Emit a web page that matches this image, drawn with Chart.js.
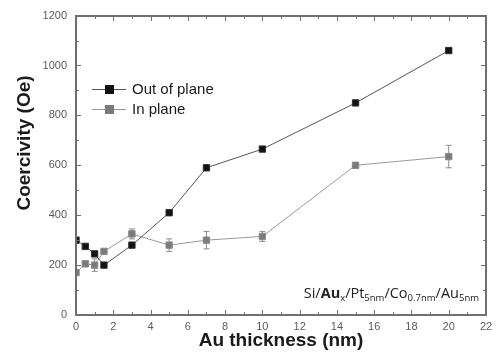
<!DOCTYPE html>
<html>
<head>
<meta charset="utf-8">
<script src="https://cdn.jsdelivr.net/npm/chart.js@4.4.0/dist/chart.umd.min.js"></script>
<style>
  html, body { margin: 0; padding: 0; background: #fff; }
  #wrap { width: 499px; height: 354px; }
</style>
</head>
<body>
<div id="wrap"><canvas id="c" width="499" height="354"></canvas></div>
<script>
// Au underlayer thickness (nm)
const thickness = [0, 0.5, 1, 1.5, 3, 5, 7, 10, 15, 20];
// Coercivity (Oe)
const outOfPlane = [300, 275, 245, 200, 280, 410, 590, 665, 850, 1060];
const inPlane    = [170, 205, 200, 255, 325, 280, 300, 315, 600, 635];
const inPlaneErr = [0, 0, 25, 0, 20, 25, 35, 20, 10, 45];
const xTicks = [0, 2, 4, 6, 8, 10, 12, 14, 16, 18, 20, 22];
const yTicks = [0, 200, 400, 600, 800, 1000, 1200];

const X_MIN = 0, X_MAX = 22, Y_MIN = 0, Y_MAX = 1200;
const FONT = '"Liberation Sans", Arial, sans-serif';
const AXIS_GREY = '#6f6f6f';

const toPoints = (xs, ys) => xs.map((x, i) => ({ x: x, y: ys[i] }));

// Vertical error bars for the in-plane series
const errorBarPlugin = {
  id: 'errorBars',
  beforeDatasetsDraw(chart) {
    const ctx = chart.ctx;
    const xs = chart.scales.x, ys = chart.scales.y;
    ctx.save();
    ctx.strokeStyle = '#8c8c8c';
    ctx.lineWidth = 1;
    ctx.beginPath();
    thickness.forEach((t, i) => {
      const e = inPlaneErr[i];
      if (!e) return;
      const px = xs.getPixelForValue(t);
      const top = ys.getPixelForValue(inPlane[i] + e);
      const bot = ys.getPixelForValue(inPlane[i] - e);
      ctx.moveTo(px, top); ctx.lineTo(px, bot);
      ctx.moveTo(px - 3, top); ctx.lineTo(px + 3, top);
      ctx.moveTo(px - 3, bot); ctx.lineTo(px + 3, bot);
    });
    ctx.stroke();
    ctx.restore();
  }
};

// Box frame with inward ticks, y title, legend and layer-stack label
const overlayPlugin = {
  id: 'overlay',
  afterDraw(chart) {
    const ctx = chart.ctx;
    const xs = chart.scales.x, ys = chart.scales.y;
    const L = Math.round(xs.getPixelForValue(X_MIN));
    const R = Math.round(xs.getPixelForValue(X_MAX));
    const B = Math.round(ys.getPixelForValue(Y_MIN));
    const T = Math.round(ys.getPixelForValue(Y_MAX));
    ctx.save();
    ctx.globalAlpha = 1;
    ctx.globalCompositeOperation = 'source-over';
    ctx.fillStyle = AXIS_GREY;
    ctx.fillRect(L - 1, T - 1, R - L + 2, 2);
    ctx.fillRect(L - 1, B - 1, R - L + 2, 2);
    ctx.fillRect(L - 1, T - 1, 2, B - T + 2);
    ctx.fillRect(R - 1, T - 1, 2, B - T + 2);
    for (let v = X_MIN; v <= X_MAX; v += 1) {
      const px = Math.round(xs.getPixelForValue(v));
      const len = v % 2 === 0 ? 5 : 3;
      ctx.fillRect(px, B - len, 1, len);
      ctx.fillRect(px, T, 1, len);
    }
    for (let v = Y_MIN; v <= Y_MAX; v += 100) {
      const py = Math.round(ys.getPixelForValue(v));
      const len = v % 200 === 0 ? 5 : 3;
      ctx.fillRect(L, py, len, 1);
      ctx.fillRect(R - len, py, len, 1);
    }

    // y axis title
    ctx.save();
    ctx.translate(25, 143);
    ctx.rotate(-Math.PI / 2);
    ctx.fillStyle = '#1a1a1a';
    ctx.font = 'bold 19px ' + FONT;
    ctx.textAlign = 'center';
    ctx.textBaseline = 'middle';
    ctx.fillText('Coercivity (Oe)', 0, 0);
    ctx.restore();

    // legend
    chart.data.datasets.forEach((ds, i) => {
      const yy = 89 + i * 20;
      ctx.strokeStyle = ds.borderColor;
      ctx.lineWidth = 1;
      ctx.beginPath(); ctx.moveTo(92, yy + 0.5); ctx.lineTo(126, yy + 0.5); ctx.stroke();
      ctx.fillStyle = ds.pointBackgroundColor;
      ctx.fillRect(105, yy - 4, 9, 9);
      ctx.fillStyle = '#1a1a1a';
      ctx.font = '15px ' + FONT;
      ctx.textBaseline = 'middle';
      ctx.textAlign = 'left';
      ctx.fillText(ds.label, 132, yy + 1);
    });

    // Si/Au_x/Pt_5nm/Co_0.7nm/Au_5nm
    const runs = [
      ['Si/', 'n'], ['Au', 'b'], ['x', 's'], ['/Pt', 'n'], ['5nm', 's'],
      ['/Co', 'n'], ['0.7nm', 's'], ['/Au', 'n'], ['5nm', 's']
    ];
    const fontFor = (k) => k === 's' ? '9.5px "Open Sans", ' + FONT
      : (k === 'b' ? 'bold 14.5px "Open Sans", ' + FONT : '14.5px "Open Sans", ' + FONT);
    let total = 0;
    runs.forEach(([t, k]) => { ctx.font = fontFor(k); total += ctx.measureText(t).width; });
    const base = 298;
    let cx = 479 - total;
    ctx.fillStyle = '#222';
    ctx.textBaseline = 'alphabetic';
    ctx.textAlign = 'left';
    runs.forEach(([t, k]) => {
      ctx.font = fontFor(k);
      ctx.fillText(t, cx, k === 's' ? base + 3 : base);
      cx += ctx.measureText(t).width;
    });
    ctx.restore();
  }
};

new Chart(document.getElementById('c'), {
  type: 'scatter',
  data: {
    datasets: [
      {
        label: 'Out of plane',
        data: toPoints(thickness, outOfPlane),
        showLine: true,
        borderColor: '#555',
        borderWidth: 1,
        pointStyle: 'rect',
        pointRadius: 4.5,
        pointBackgroundColor: '#111',
        pointBorderColor: '#333',
        pointBorderWidth: 1
      },
      {
        label: 'In plane',
        data: toPoints(thickness, inPlane),
        showLine: true,
        borderColor: '#999',
        borderWidth: 1,
        pointStyle: 'rect',
        pointRadius: 4.5,
        pointBackgroundColor: '#7a7a7a',
        pointBorderColor: '#8a8a8a',
        pointBorderWidth: 1
      }
    ]
  },
  options: {
    responsive: false,
    animation: false,
    layout: { padding: { top: 15, right: 13, left: 0, bottom: 0 } },
    plugins: { legend: { display: false }, tooltip: { enabled: false } },
    scales: {
      x: {
        type: 'linear',
        min: X_MIN, max: X_MAX,
        afterBuildTicks: (s) => { s.ticks = xTicks.map(v => ({ value: v })); },
        afterFit: (s) => { s.height = 39; },
        grid: { display: false, drawTicks: false },
        border: { display: false },
        ticks: { color: '#5a5a5a', font: { family: FONT, size: 11 }, padding: 5, maxRotation: 0 },
        title: {
          display: true, text: 'Au thickness (nm)', color: '#1a1a1a',
          font: { family: FONT, size: 19, weight: 'bold' }, padding: { top: 0, bottom: 2 }
        }
      },
      y: {
        min: Y_MIN, max: Y_MAX,
        afterBuildTicks: (s) => { s.ticks = yTicks.map(v => ({ value: v })); },
        afterFit: (s) => { s.width = 76; },
        grid: { display: false, drawTicks: false },
        border: { display: false },
        ticks: {
          color: '#5a5a5a', font: { family: FONT, size: 11 }, padding: 9,
          callback: (v) => String(v)
        }
      }
    }
  },
  plugins: [errorBarPlugin, overlayPlugin]
});
</script>
</body>
</html>
